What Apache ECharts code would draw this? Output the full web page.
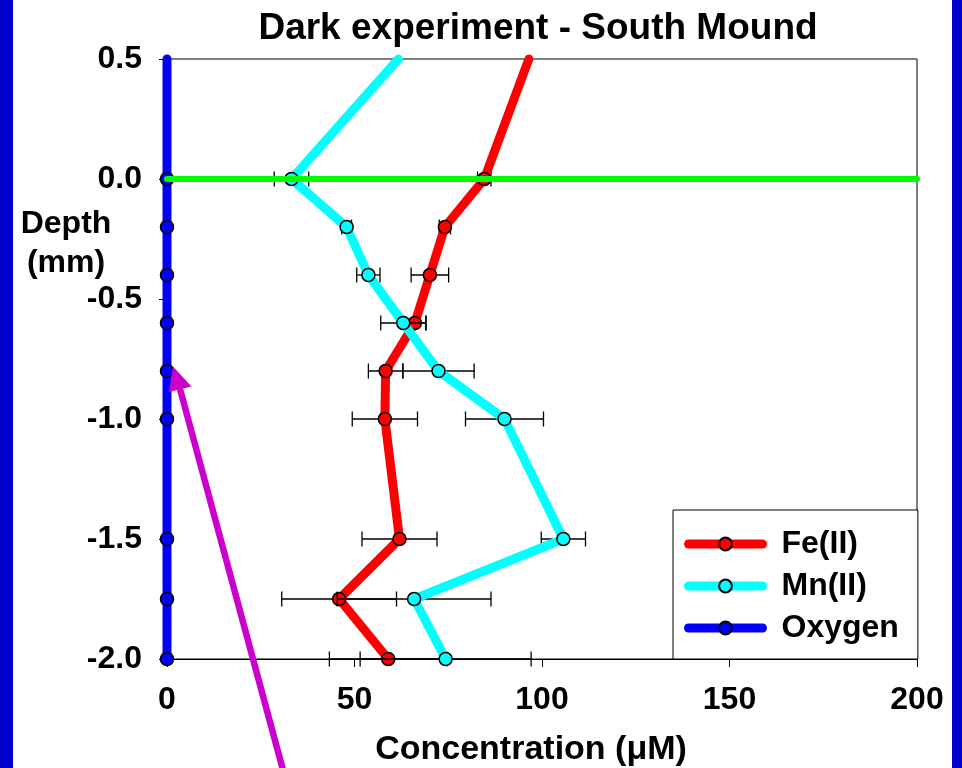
<!DOCTYPE html>
<html>
<head>
<meta charset="utf-8">
<script src="https://cdn.jsdelivr.net/npm/echarts@6/dist/echarts.min.js"></script>
<style>
  html, body { margin: 0; padding: 0; background: #fff; }
  #chart { width: 962px; height: 768px; }
</style>
</head>
<body>
<div id="chart"></div>
<script>
// Depth profile (mm) shared by every series
const depths = [0.5, 0.0, -0.2, -0.4, -0.6, -0.8, -1.0, -1.5, -1.75, -2.0];

// Fe(II) concentration (µM) and its error half-widths
const feValues = [96.5, 84.6, 74.1, 70.1, 66.1, 58.3, 58.1, 62.0, 45.9, 59.0];
const feErrors = [null, 1.8, 1.5, 5.0, 3.0, 4.6, 8.7, 10.0, 15.3, 15.7];

// Mn(II) concentration (µM) and its error half-widths
const mnValues = [61.7, 33.2, 47.9, 53.7, 63.0, 72.4, 90.0, 105.7, 65.9, 74.3];
const mnErrors = [null, 4.6, 1.3, 3.1, 6.0, 9.5, 10.4, 5.9, 20.5, 22.8];

// Oxygen concentration (µM)
const oxygenValues = [0, 0, 0, 0, 0, 0, 0, 0, 0, 0];

// Sediment surface line
const surfaceDepth = 0.0;
const surfaceExtent = [0, 200];

// Axis ranges / ticks
const xRange = [0, 200], xStep = 50;
const yRange = [-2.0, 0.5], yStep = 0.5;

const seriesNames = ['Fe(II)', 'Mn(II)', 'Oxygen'];

const FONT = '"Liberation Sans", Arial, Helvetica, sans-serif';

// Profile points; the topmost point (plot edge) carries no marker
function profile(values) {
  return values.map((v, i) => ({
    value: [v, depths[i]],
    symbol: depths[i] >= yRange[1] ? 'none' : 'circle'
  }));
}

// Horizontal error bars with end caps
function errorBars(values, errs, z) {
  const data = [];
  values.forEach((v, i) => {
    if (errs[i] != null) data.push([v - errs[i], v + errs[i], depths[i]]);
  });
  return {
    type: 'custom',
    silent: true,
    z: z,
    clip: false,
    encode: { x: [0, 1], y: 2 },
    data: data,
    renderItem: function (params, api) {
      const lo = api.coord([api.value(0), api.value(2)]);
      const hi = api.coord([api.value(1), api.value(2)]);
      const h = 7.5;
      const st = { stroke: '#000', lineWidth: 1.3 };
      return {
        type: 'group',
        children: [
          { type: 'line', shape: { x1: lo[0], y1: lo[1], x2: hi[0], y2: hi[1] }, style: st },
          { type: 'line', shape: { x1: lo[0], y1: lo[1] - h, x2: lo[0], y2: lo[1] + h }, style: st },
          { type: 'line', shape: { x1: hi[0], y1: hi[1] - h, x2: hi[0], y2: hi[1] + h }, style: st }
        ]
      };
    }
  };
}

function lineSeries(name, values, color, z) {
  return {
    name: name,
    type: 'line',
    z: z,
    clip: false,
    data: profile(values),
    symbol: 'circle',
    symbolSize: 13,
    itemStyle: { color: color, borderColor: '#000', borderWidth: 1.5 },
    lineStyle: { color: color, width: 9, cap: 'round', join: 'round' },
    emphasis: { disabled: true }
  };
}

const chart = echarts.init(document.getElementById('chart'), null, { renderer: 'canvas' });

chart.setOption({
  animation: false,
  backgroundColor: '#ffffff',
  title: {
    text: 'Dark experiment - South Mound',
    left: 533,
    top: 5,
    textAlign: 'center',
    textStyle: { fontFamily: FONT, fontWeight: 'bold', fontSize: 37, color: '#000' }
  },
  grid: {
    left: 167, right: 45, top: 59, bottom: 109,
    outerBoundsMode: 'none',
    containLabel: false,
    show: true, borderColor: '#000', borderWidth: 1, backgroundColor: 'transparent'
  },
  legend: {
    data: seriesNames,
    orient: 'vertical',
    left: 673,
    top: 510,
    padding: [18, 19, 15, 11],
    itemWidth: 74,
    itemHeight: 16,
    itemGap: 10,
    backgroundColor: '#fff',
    borderColor: '#000',
    borderWidth: 1,
    lineStyle: { width: 9, cap: 'round' },
    textStyle: { fontFamily: FONT, fontWeight: 'bold', fontSize: 32, color: '#000', padding: [0, 0, 0, 14] }
  },
  xAxis: {
    type: 'value',
    min: xRange[0], max: xRange[1], interval: xStep,
    name: 'Concentration (\u03bcM)',
    nameLocation: 'middle',
    nameGap: 74,
    nameTextStyle: { fontFamily: FONT, fontWeight: 'bold', fontSize: 34, color: '#000', padding: [0, 22, 0, 0] },
    axisLine: { onZero: false, lineStyle: { color: '#000', width: 1 } },
    axisTick: { show: true, inside: false, length: 8, lineStyle: { color: '#000' } },
    axisLabel: { margin: 25, fontFamily: FONT, fontWeight: 'bold', fontSize: 32, color: '#000' },
    splitLine: { show: false }
  },
  yAxis: {
    type: 'value',
    min: yRange[0], max: yRange[1], interval: yStep,
    axisLine: { onZero: false, lineStyle: { color: '#000', width: 1 } },
    axisTick: { show: true, inside: false, length: 8, lineStyle: { color: '#000' } },
    axisLabel: {
      margin: 25, fontFamily: FONT, fontWeight: 'bold', fontSize: 32, color: '#000',
      formatter: v => v.toFixed(1)
    },
    splitLine: { show: false }
  },
  series: [
    lineSeries('Oxygen', oxygenValues, '#0000ff', 2),
    errorBars(feValues, feErrors, 3),
    lineSeries('Fe(II)', feValues, '#ff0000', 4),
    errorBars(mnValues, mnErrors, 5),
    lineSeries('Mn(II)', mnValues, '#00ffff', 6),
    {
      name: 'Surface',
      type: 'line',
      z: 7,
      clip: false,
      symbol: 'none',
      silent: true,
      data: surfaceExtent.map(x => [x, surfaceDepth]),
      lineStyle: { color: '#00ff00', width: 6, cap: 'round' }
    }
  ],
  graphic: [
    // side bands of the slide frame
    { type: 'rect', left: 0, top: 0, shape: { width: 13, height: 768 }, style: { fill: '#0000cc' }, z: 100 },
    { type: 'rect', left: 952, top: 0, shape: { width: 10, height: 768 }, style: { fill: '#0000cc' }, z: 100 },
    // y-axis title
    {
      type: 'text', x: 66, y: 244, z: 100,
      style: {
        text: 'Depth\n(mm)', fill: '#000', fontFamily: FONT, fontWeight: 'bold', fontSize: 32,
        lineHeight: 39, align: 'center', verticalAlign: 'middle'
      }
    },
    // pointer arrow
    {
      type: 'polyline', z: 100,
      shape: { points: [[283, 770], [180, 389]] },
      style: { stroke: '#cc00cc', lineWidth: 6.5, fill: null }
    },
    {
      type: 'polygon', z: 100,
      shape: { points: [[173, 366.5], [169, 392], [191.5, 386.5]] },
      style: { fill: '#cc00cc' }
    }
  ]
});
</script>
</body>
</html>
